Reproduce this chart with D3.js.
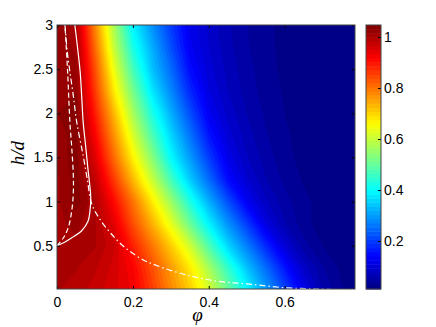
<!DOCTYPE html>
<html>
<head>
<meta charset="utf-8">
<script src="https://cdnjs.cloudflare.com/ajax/libs/d3/7.8.5/d3.min.js"></script>
<style>
body{margin:0;background:#fff}
svg{display:block;font-family:"Liberation Sans",Arial,sans-serif}
.tick text{font-size:14px;fill:#000}
.axis-label{font-family:"Liberation Serif","Times New Roman",serif;font-style:italic;font-size:19px}
</style>
</head>
<body>
<svg width="436" height="327"></svg>
<script>
// grid the map is sampled on
var phi = [0,0.05,0.1,0.15,0.2,0.25,0.3,0.35,0.4,0.45,0.5,0.55,0.6,0.65,0.7,0.75,0.8]
var hd  = [0,0.25,0.5,0.75,1,1.25,1.5,1.75,2,2.25,2.5,2.75,3]

// one row per hd value, one column per phi value
var field = [
	[1.00,0.99,0.975,0.955,0.93,0.86,0.78,0.71,0.62,0.51,0.40,0.30,0.21,0.12,0.06,0.03,0.02],
	[1.00,1.00,0.985,0.96,0.92,0.84,0.76,0.68,0.57,0.45,0.34,0.25,0.16,0.085,0.046,0.024,0.013],
	[1.00,1.01,1.00,0.97,0.885,0.80,0.71,0.61,0.48,0.36,0.27,0.18,0.10,0.051,0.028,0.015,0.01],
	[1.01,1.02,1.00,0.945,0.84,0.74,0.635,0.51,0.39,0.29,0.20,0.11,0.062,0.034,0.019,0.011,0.01],
	[1.01,1.04,1.00,0.91,0.80,0.68,0.56,0.43,0.32,0.22,0.13,0.08,0.05,0.033,0.021,0.013,0.01],
	[1.01,1.04,0.98,0.86,0.73,0.605,0.47,0.35,0.25,0.15,0.095,0.061,0.04,0.026,0.017,0.011,0.01],
	[1.02,1.04,0.95,0.81,0.67,0.54,0.40,0.30,0.20,0.12,0.078,0.052,0.034,0.022,0.015,0.01,0.01],
	[1.02,1.04,0.92,0.77,0.62,0.48,0.36,0.26,0.16,0.10,0.068,0.046,0.031,0.021,0.014,0.01,0.01],
	[1.03,1.04,0.89,0.73,0.57,0.43,0.32,0.22,0.13,0.088,0.06,0.041,0.028,0.019,0.013,0.01,0.01],
	[1.03,1.03,0.86,0.68,0.52,0.38,0.28,0.18,0.11,0.077,0.053,0.037,0.026,0.018,0.012,0.01,0.01],
	[1.03,1.02,0.84,0.64,0.47,0.34,0.25,0.15,0.10,0.071,0.05,0.035,0.024,0.017,0.012,0.01,0.01],
	[1.03,1.01,0.81,0.60,0.425,0.32,0.22,0.13,0.093,0.066,0.046,0.033,0.023,0.016,0.012,0.01,0.01],
	[1.03,1.00,0.78,0.57,0.39,0.29,0.20,0.12,0.088,0.063,0.045,0.032,0.023,0.017,0.012,0.01,0.01]
]

// the three white curves, [phi, h/d]
var solidCurve = [[0,0.5],[0.02,0.54],[0.039,0.59],[0.065,0.67],[0.082,0.78],[0.087,0.9],[0.089,1.05],[0.086,1.2],[0.082,1.35],[0.075,1.65],[0.069,1.9],[0.065,2.2],[0.061,2.47],[0.054,2.75],[0.047,3.0]]
var dashedCurve = [[0,0.5],[0.017,0.59],[0.03,0.71],[0.039,0.9],[0.043,1.1],[0.043,1.3],[0.039,1.6],[0.034,1.9],[0.028,2.47],[0.021,3.0]]
var dashDotCurve = [[0.021,3.0],[0.027,2.7],[0.034,2.47],[0.043,2.2],[0.052,1.9],[0.069,1.52],[0.08,1.25],[0.091,0.98],[0.113,0.8],[0.144,0.63],[0.179,0.48],[0.223,0.35],[0.26,0.28],[0.332,0.18],[0.42,0.10],[0.508,0.065],[0.596,0.026],[0.683,0.01],[0.76,0.0]]

var xTicks = [0,0.2,0.4,0.6]
var yTicks = [0.5,1,1.5,2,2.5,3]
var cTicks = [0.2,0.4,0.6,0.8,1]
var cRange = [0.012,1.047]

var svg = d3.select("svg")
var pLeft = 57, pRight = 355, pTop = 25, pBottom = 289

var x = d3.scaleLinear().domain([0, Math.PI/4]).range([pLeft, pRight])
var y = d3.scaleLinear().domain([0.01, 3]).range([pBottom, pTop])
var c = d3.scaleLinear().domain(cRange).range([pBottom, pTop])

function jet(v){
	var k = Math.floor((v - cRange[0])/(cRange[1] - cRange[0])*64)
	k = Math.max(0, Math.min(63, k))
	var t = (k + 0.5)/64
	function f(o){ return Math.max(0, Math.min(1, 1.5 - Math.abs(4*t - o))) }
	return d3.rgb(255*f(3), 255*f(2), 255*f(1)).toString()
}

svg.append("clipPath").attr("id", "plot")
	.append("rect")
		.attr("x", pLeft).attr("y", pTop)
		.attr("width", pRight - pLeft).attr("height", pBottom - pTop)

var nx = phi.length, ny = hd.length
var dphi = phi[1] - phi[0], dh = hd[1] - hd[0]
var values = []
field.forEach(function(row){ row.forEach(function(v){ values.push(v) }) })

var levels = d3.range(64).map(function(k){ return cRange[0] + k*(cRange[1] - cRange[0])/64 })
var contours = d3.contours().size([nx, ny]).thresholds(levels)(values)

var toPixels = d3.geoTransform({
	point: function(gx, gy){
		this.stream.point(x(phi[0] + (gx - 0.5)*dphi), y(hd[0] + (gy - 0.5)*dh))
	}
})
var path = d3.geoPath(toPixels)

var map = svg.append("g").attr("clip-path", "url(#plot)")
map.append("rect")
	.attr("x", pLeft).attr("y", pTop)
	.attr("width", pRight - pLeft).attr("height", pBottom - pTop)
	.attr("fill", jet(0))
map.selectAll("path.band")
		.data(contours)
	.enter().append("path")
		.attr("class", "band")
		.attr("d", path)
		.attr("fill", function(d){ return jet(d.value + 0.001) })
		.attr("stroke", function(d){ return jet(d.value + 0.001) })
		.attr("stroke-width", 0.3)

var line = d3.line()
	.x(function(d){ return x(d[0]) })
	.y(function(d){ return y(d[1]) })
	.curve(d3.curveCatmullRom)

var curves = map.append("g").attr("fill", "none").attr("stroke", "#fff").attr("stroke-width", 1.2)
curves.append("path").attr("d", line(solidCurve))
curves.append("path").attr("d", line(dashedCurve)).attr("stroke-dasharray", "5,3")
curves.append("path").attr("d", line(dashDotCurve)).attr("stroke-dasharray", "6,3,1.5,3")

// axes, ticks pointing in like matlab
svg.append("g")
	.attr("transform", "translate(0," + pBottom + ")")
	.call(d3.axisBottom(x).tickValues(xTicks).tickSize(-3).tickPadding(8).tickFormat(function(d){ return d }))
svg.append("g")
	.attr("transform", "translate(0," + pTop + ")")
	.call(d3.axisTop(x).tickValues(xTicks).tickSize(-3).tickFormat(""))
svg.append("g")
	.attr("transform", "translate(" + pLeft + ",0)")
	.call(d3.axisLeft(y).tickValues(yTicks).tickSize(-3).tickPadding(4).tickFormat(function(d){ return d }))
svg.append("g")
	.attr("transform", "translate(" + pRight + ",0)")
	.call(d3.axisRight(y).tickValues(yTicks).tickSize(-3).tickFormat(""))
svg.selectAll(".domain").remove()

svg.append("rect")
	.attr("x", pLeft).attr("y", pTop)
	.attr("width", pRight - pLeft).attr("height", pBottom - pTop)
	.attr("fill", "none").attr("stroke", "#444").attr("stroke-width", 1)

svg.append("text")
	.attr("class", "axis-label")
	.attr("x", x(0.37)).attr("y", 321)
	.attr("text-anchor", "middle")
	.text("φ")
svg.append("text")
	.attr("class", "axis-label")
	.attr("transform", "translate(24," + y(1.55) + ") rotate(-90)")
	.attr("text-anchor", "middle")
	.text("h/d")

// colorbar
var cbLeft = 366, cbRight = 381
var bins = d3.range(64)
svg.selectAll("rect.bin")
		.data(bins)
	.enter().append("rect")
		.attr("class", "bin")
		.attr("x", cbLeft)
		.attr("width", cbRight - cbLeft)
		.attr("y", function(k){ return c(cRange[0] + (k + 1)*(cRange[1] - cRange[0])/64) })
		.attr("height", (pBottom - pTop)/64 + 0.5)
		.attr("fill", function(k){ return jet(cRange[0] + (k + 0.5)*(cRange[1] - cRange[0])/64) })
svg.append("g")
	.attr("transform", "translate(" + cbRight + ",0)")
	.call(d3.axisRight(c).tickValues(cTicks).tickSize(-3).tickPadding(3).tickFormat(function(d){ return d }))
	.select(".domain").remove()
svg.append("rect")
	.attr("x", cbLeft).attr("y", pTop)
	.attr("width", cbRight - cbLeft).attr("height", pBottom - pTop)
	.attr("fill", "none").attr("stroke", "#444").attr("stroke-width", 1)
</script>
</body>
</html>
